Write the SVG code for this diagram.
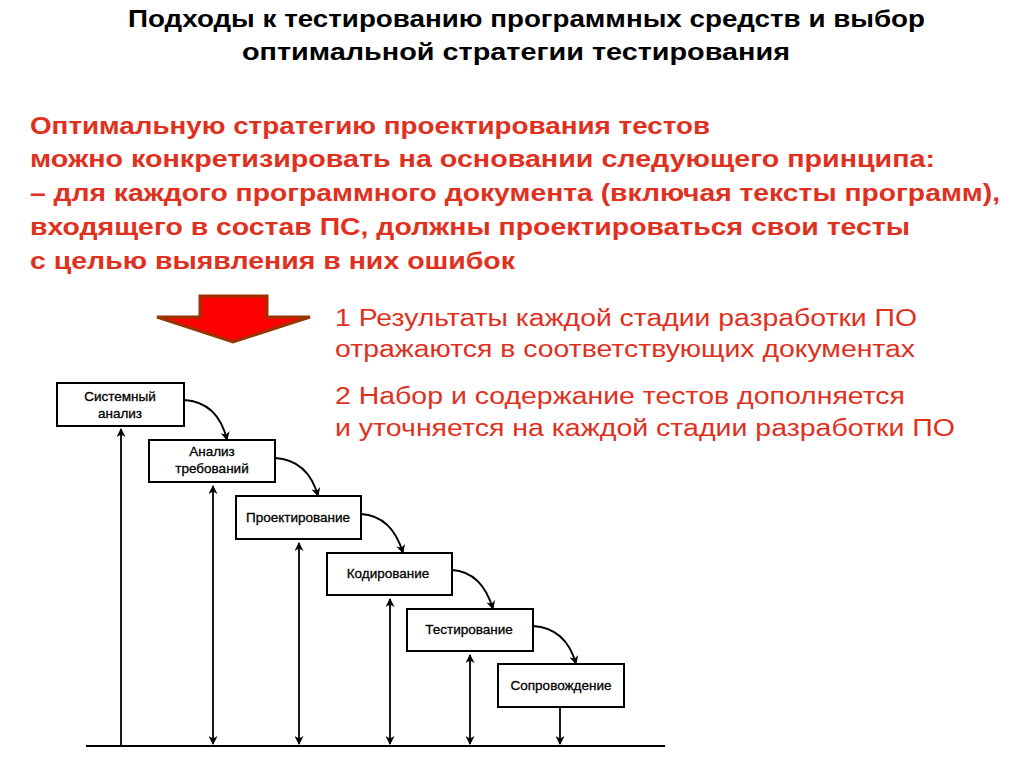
<svg xmlns="http://www.w3.org/2000/svg" width="1024" height="767" viewBox="0 0 1024 767">
<style>
.t{font-family:"Liberation Sans",Arial,sans-serif;font-weight:bold;font-size:23px;fill:#000}
.r{font-family:"Liberation Sans",Arial,sans-serif;font-weight:bold;font-size:24px;fill:#e0301e}
.n{font-family:"Liberation Sans",Arial,sans-serif;font-size:23px;fill:#e0301e}
.bx{fill:#fff;stroke:#000;stroke-width:2}
.bt{font-family:"Liberation Sans",Arial,sans-serif;font-size:13.5px;fill:#000;text-anchor:middle;stroke:#000;stroke-width:0.3}
.ln{stroke:#000;stroke-width:1.8;fill:none}
</style>
<defs>
<marker id="a" viewBox="0 0 10 10" refX="9" refY="5" markerWidth="10" markerHeight="9" orient="auto-start-reverse" markerUnits="userSpaceOnUse"><path d="M0,0 L10,5 L0,10 L3,5 Z" fill="#000"/></marker>
</defs>
<rect width="1024" height="767" fill="#fff"/>
<text class="t" x="128" y="27" textLength="797" lengthAdjust="spacingAndGlyphs">Подходы к тестированию программных средств и выбор</text>
<text class="t" x="242" y="60" textLength="548" lengthAdjust="spacingAndGlyphs">оптимальной стратегии тестирования</text>
<text class="r" x="30" y="134" textLength="680" lengthAdjust="spacingAndGlyphs">Оптимальную стратегию проектирования тестов</text>
<text class="r" x="30" y="167" textLength="905" lengthAdjust="spacingAndGlyphs">можно конкретизировать на основании следующего принципа:</text>
<text class="r" x="30" y="201" textLength="970" lengthAdjust="spacingAndGlyphs">– для каждого программного документа (включая тексты программ),</text>
<text class="r" x="30" y="235" textLength="880" lengthAdjust="spacingAndGlyphs">входящего в состав ПС, должны проектироваться свои тесты</text>
<text class="r" x="30" y="269" textLength="485" lengthAdjust="spacingAndGlyphs">с целью выявления в них ошибок</text>
<text class="n" x="335" y="326" textLength="582" lengthAdjust="spacingAndGlyphs">1 Результаты каждой стадии разработки ПО</text>
<text class="n" x="335" y="357" textLength="580" lengthAdjust="spacingAndGlyphs">отражаются в соответствующих документах</text>
<text class="n" x="335" y="404" textLength="570" lengthAdjust="spacingAndGlyphs">2 Набор и содержание тестов дополняется</text>
<text class="n" x="335" y="436" textLength="620" lengthAdjust="spacingAndGlyphs">и уточняется на каждой стадии разработки ПО</text>
<polygon points="200,296 267,296 267,317 310,317 233,342 157,317 200,317" fill="#ff0000" stroke="#993300" stroke-width="3"/>
<g id="connectors">
<line class="ln" x1="86" y1="746" x2="665" y2="746" stroke-width="2.5"/>
<line class="ln" x1="121" y1="745" x2="121" y2="429" marker-end="url(#a)"/>
<line class="ln" x1="213" y1="744" x2="213" y2="486" marker-start="url(#a)" marker-end="url(#a)"/>
<line class="ln" x1="299" y1="744" x2="299" y2="543" marker-start="url(#a)" marker-end="url(#a)"/>
<line class="ln" x1="390" y1="744" x2="390" y2="599" marker-start="url(#a)" marker-end="url(#a)"/>
<line class="ln" x1="470" y1="744" x2="470" y2="655" marker-start="url(#a)" marker-end="url(#a)"/>
<line class="ln" x1="560" y1="707" x2="560" y2="744" marker-end="url(#a)"/>
<path class="ln" d="M184,400 Q218,402 227,440" marker-end="url(#a)"/>
<path class="ln" d="M275,458 Q308,460 318,496" marker-end="url(#a)"/>
<path class="ln" d="M361,514 Q392,516 403,553" marker-end="url(#a)"/>
<path class="ln" d="M452,570 Q482,572 493,609" marker-end="url(#a)"/>
<path class="ln" d="M533,626 Q566,628 576,664" marker-end="url(#a)"/>
</g>
<g id="n1"><rect class="bx" x="57" y="383" width="127" height="43"/><text class="bt" x="120" y="401">Системный</text><text class="bt" x="120" y="418">анализ</text></g>
<g id="n2"><rect class="bx" x="149" y="440" width="126" height="42"/><text class="bt" x="212" y="456">Анализ</text><text class="bt" x="212" y="473">требований</text></g>
<g id="n3"><rect class="bx" x="236" y="496" width="125" height="43"/><text class="bt" x="298" y="522">Проектирование</text></g>
<g id="n4"><rect class="bx" x="327" y="553" width="125" height="42"/><text class="bt" x="388" y="578">Кодирование</text></g>
<g id="n5"><rect class="bx" x="407" y="609" width="126" height="42"/><text class="bt" x="469" y="634">Тестирование</text></g>
<g id="n6"><rect class="bx" x="498" y="664" width="126" height="43"/><text class="bt" x="561" y="690">Сопровождение</text></g>
</svg>
